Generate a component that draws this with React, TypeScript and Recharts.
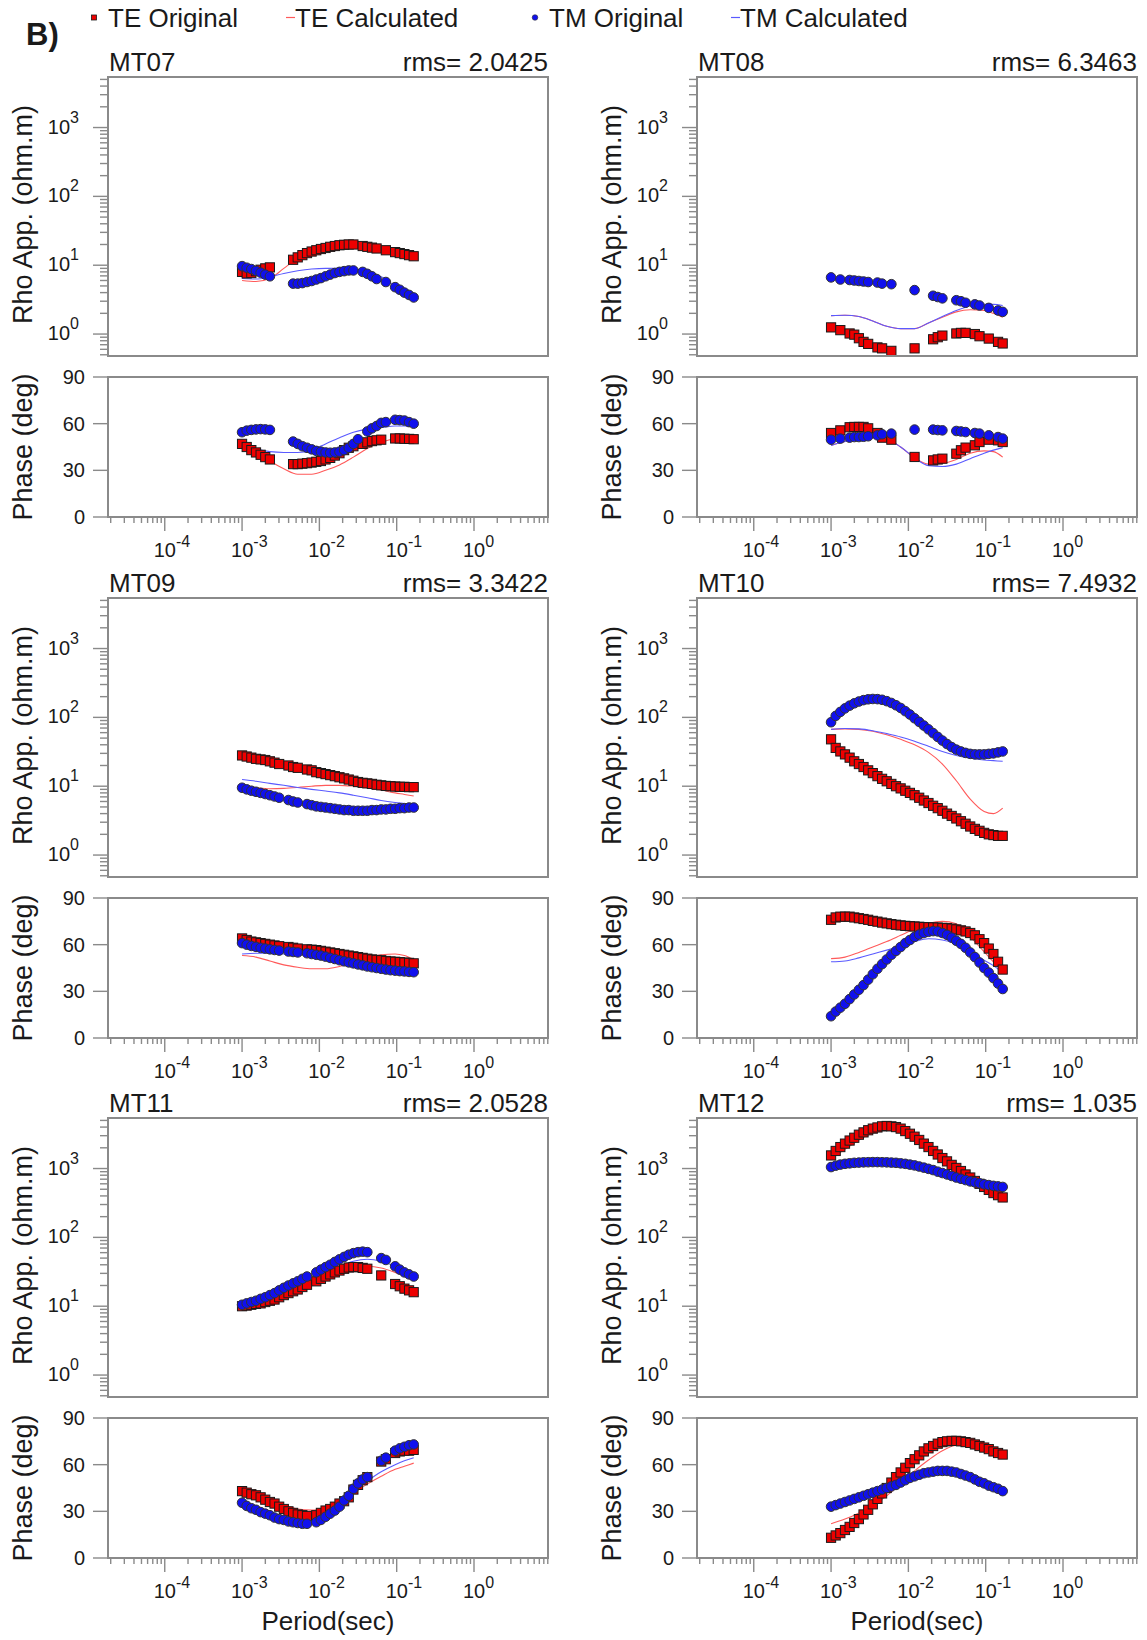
import { ComposedChart, Scatter, Line, XAxis, YAxis } from 'recharts'

const FONT = '"Liberation Sans", Arial, Helvetica, sans-serif'
const TEXT = '#1a1a1a'
const FRAME = '#8a8a8a'
const TE_FILL = '#ee0000'
const TM_FILL = '#1010ee'
const TE_LINE = '#ff5a5a'
const TM_LINE = '#5a5aff'

// observed periods (s)
const periods = [
  0.001, 0.001148, 0.001318, 0.001514, 0.001738, 0.001995, 0.002291, 0.00263, 0.00302, 0.003467,
  0.003981, 0.004571, 0.005248, 0.006026, 0.006918, 0.007943, 0.00912, 0.010471, 0.012023, 0.013804,
  0.015849, 0.018197, 0.020893, 0.023988, 0.027542, 0.031623, 0.036308, 0.041687, 0.047863, 0.054954,
  0.063096, 0.072444, 0.083176, 0.095499, 0.109648, 0.125893, 0.144544, 0.165959,
]
// periods of the model response curves (s)
const calcPeriods = [
  0.001, 0.001514, 0.002291, 0.003467, 0.005248, 0.007943, 0.012023, 0.018197, 0.027542, 0.041687,
  0.063096, 0.095499, 0.125893, 0.165959,
]

const xMajor = [1e-4, 1e-3, 1e-2, 1e-1, 1]
const xDecades = [1e-5, 1e-4, 1e-3, 1e-2, 1e-1, 1]
const rhoMajor = [1, 10, 100, 1000]
const rhoDecades = [0.1, 1, 10, 100, 1000]
const phaseTicks = [0, 30, 60, 90]
const X_DOMAIN = [1.845e-5, 9.06]
const RHO_DOMAIN = [0.48, 5420]

// ---- MT07
const mt07TeRho = [8.0, 7.6, 7.7, 8.2, 8.6, 9.0, 9.3, null, null, null, null, 12, 13, 14, 15, 15.8, 16.5, 17.2, 17.8, 18.5, 19, 19.5, 19.8, 20, 20, null, 19, 18.5, 18, 17.5, null, 16.5, null, 15.5, 15, 14.5, 14, 13.5]
const mt07TmRho = [9.7, 9.2, 8.8, 8.3, 7.8, 7.3, 6.9, null, null, null, null, 5.4, 5.4, 5.5, 5.7, 5.9, 6.2, 6.5, 6.9, 7.3, 7.7, 8.0, 8.2, 8.4, 8.4, null, 8.0, 7.5, 6.9, 6.3, null, 5.7, null, 4.8, 4.4, 4.0, 3.7, 3.4]
const mt07TePhase = [47, 45, 43, 41.5, 40, 38.5, 37, null, null, null, null, 34, 34, 34.3, 34.6, 35, 35.5, 36, 37, 38, 39.5, 41, 43, 44.5, 45.5, null, 47, 48, 48.8, 49.3, 49.7, null, null, 50.5, 50.5, 50.3, 50.2, 50]
const mt07TmPhase = [54.5, 55.5, 56, 56.3, 56.5, 56.3, 56, null, null, null, null, 48.5, 47, 45.5, 44.5, 43.5, 42.5, 42, 41.5, 41.3, 41.5, 42, 43, 44.5, 47, 50, null, 55, 57, 58.5, 60.5, 61, null, 62.5, 62.3, 62, 61, 60]
const mt07TeRhoCalc = [6.0, 5.8, 6.4, 9, 12.5, 14.5, 17, 19, 20, 19.5, 17.5, 15.5, 14.5, 13.5]
const mt07TmRhoCalc = [6.4, 6.3, 6.8, 7.6, 8.3, 8.8, 9.0, 9.0, 8.7, 8.0, 6.8, 5.0, 4.2, 3.6]
const mt07TePhaseCalc = [47, 42, 36, 31, 27.5, 27.5, 30, 33.5, 38.5, 44, 48, 50.5, 51, 51]
const mt07TmPhaseCalc = [48, 44, 42, 41.5, 41.5, 43, 47, 51, 54.5, 56.5, 57.5, 58.5, 58.5, 58]

// ---- MT08
const mt08TeRho = [1.25, null, 1.14, null, 1.02, 0.98, 0.87, 0.77, 0.72, null, 0.64, 0.62, null, 0.57, null, null, null, null, 0.62, null, null, null, 0.84, 0.9, 0.95, null, null, 1.02, 1.04, 1.04, null, 1.0, 0.93, null, 0.86, null, 0.77, 0.73]
const mt08TmRho = [6.65, null, 6.2, null, 6.1, 6.0, 5.9, 5.8, 5.7, null, 5.6, 5.4, null, 5.3, null, null, null, null, 4.35, null, null, null, 3.6, 3.45, 3.3, null, null, 3.1, 3.0, 2.85, null, 2.7, 2.6, null, 2.4, null, 2.2, 2.1]
const mt08TePhase = [54, null, 55.7, null, 57.7, 57.9, 57.9, 57.9, 57, null, 54, 51, null, 49.7, null, null, null, null, 38.6, null, null, null, 36.4, 37, 37.5, null, null, 40.7, 42.9, 44.6, null, 46.1, 48.2, null, 49.7, null, 49.3, 48.2]
const mt08TmPhase = [49.7, null, 50.4, null, 51, 51.4, 51.4, 51.6, 51.9, null, 52.5, 53.2, null, 53.6, null, null, null, null, 56.2, null, null, null, 56.2, 55.9, 55.7, null, null, 55.3, 55, 54.6, null, 54, 53.6, null, 52.5, null, 51.4, 50.4]
const mt08TeRhoCalc = [1.85, 1.88, 1.8, 1.55, 1.3, 1.2, 1.2, 1.45, 1.75, 2.1, 2.25, 2.2, 2.0, 1.75]
const mt08TmRhoCalc = [1.85, 1.88, 1.8, 1.55, 1.3, 1.2, 1.2, 1.45, 1.8, 2.2, 2.55, 2.7, 2.7, 2.6]
const mt08TePhaseCalc = [46, 48.5, 50.5, 51, 50, 45, 38, 34, 34.5, 37, 41, 42.5, 42, 38.5]
const mt08TmPhaseCalc = [46, 48.5, 50.5, 51, 50, 45, 38, 33, 32.5, 34, 37.5, 41, 43, 44.6]

// ---- MT09
const mt09TeRho = [28, 27, 26, 25, 24.5, 24, 23, 22, 21, null, 20, 19, 18.5, null, 17.5, 17, 16, 15.5, 15, 14.5, 14, 13.5, 13, 12.5, 12, 11.5, 11.2, 11, 10.8, 10.5, 10.3, 10.1, 10, 9.9, 9.8, 9.8, 9.7, 9.7]
const mt09TmRho = [9.5, 9.0, 8.6, 8.3, 8.0, 7.7, 7.4, 7.1, 6.8, null, 6.3, 6.0, 5.8, null, 5.5, 5.3, 5.1, 5.0, 4.9, 4.8, 4.7, 4.6, 4.5, 4.5, 4.4, 4.4, 4.4, 4.4, 4.5, 4.5, 4.6, 4.6, 4.7, 4.7, 4.8, 4.8, 4.9, 4.9]
const mt09TePhase = [64, 63, 62, 61.5, 61, 60.5, 60, 59.5, 59, null, 58.5, 58, 57.5, null, 57, 56.8, 56.5, 56, 55.5, 55, 54.5, 54, 53.5, 53, 52.5, 52, 51.5, 51, 50.5, 50.2, 50, 49.5, 49.2, 49, 48.8, 48.5, 48.3, 48]
const mt09TmPhase = [61, 60, 59.2, 58.6, 58, 57.5, 57, 56.6, 56.2, null, 55.6, 55.3, 55, null, 54.5, 54, 53.5, 53, 52.3, 51.5, 50.8, 50, 49.3, 48.6, 48, 47.3, 46.7, 46, 45.5, 45, 44.5, 44, 43.6, 43.3, 43, 42.8, 42.5, 42.3]
const mt09TeRhoCalc = [10, 9.5, 9.2, 9.3, 9.6, 10, 10.3, 10.3, 10, 9.5, 8.8, 8, 7.6, 7.2]
const mt09TmRhoCalc = [12.5, 11.8, 11, 10.3, 9.6, 9, 8.5, 8, 7.4, 6.8, 6.2, 5.8, 5.6, 5.4]
const mt09TePhaseCalc = [53, 52, 49.5, 47, 45.5, 44.5, 44.5, 46, 48.5, 51.5, 53.5, 54, 53, 50.5]
const mt09TmPhaseCalc = [54, 54.5, 54.5, 54, 53.5, 53, 52.5, 51.5, 50.5, 49.5, 48.5, 47.5, 47, 46.5]

// ---- MT10
const mt10TeRho = [48, 36, 32, 29, 26, 23, 21, 19, 17, 15.5, 14, 12.8, 11.8, 10.8, 10, 9.3, 8.6, 8, 7.4, 6.8, 6.2, 5.7, 5.2, 4.8, 4.4, 4, 3.7, 3.4, 3.1, 2.85, 2.6, 2.4, 2.25, 2.1, 2.0, 1.95, 1.9, 1.9]
const mt10TmRho = [85, 105, 120, 135, 148, 160, 170, 178, 183, 185, 184, 180, 172, 162, 150, 137, 123, 110, 97, 86, 76, 67, 59, 52, 46, 41, 37, 34, 32, 30.5, 29.5, 29, 29, 29, 29.5, 30, 31, 32]
const mt10TePhase = [76, 77.5, 78, 78, 78, 77.5, 77, 76.5, 76, 75.3, 74.8, 74.2, 73.7, 73.2, 72.8, 72.4, 72.1, 71.9, 71.7, 71.5, 71.3, 71.2, 71.1, 71, 70.8, 70.6, 70.3, 69.8, 69.2, 68.5, 67.5, 66, 63.5, 61, 57.5, 54, 49, 44]
const mt10TmPhase = [14, 17, 19.5, 22, 25, 28, 31, 34, 37.5, 41, 44.5, 47.5, 50.5, 53.5, 56, 58.5, 61, 63, 65, 66.5, 67.5, 68.3, 68.7, 68.5, 67.5, 66.3, 64.5, 62.5, 60.5, 58, 55, 52, 48.5, 45, 42, 38.5, 35, 31.5]
const mt10TeRhoCalc = [67, 68, 67, 63, 56, 48, 40, 31, 21, 12, 6.5, 4.3, 4.0, 4.8]
const mt10TmRhoCalc = [67, 69, 68, 64, 58, 52, 45, 38, 32, 28, 25.5, 24, 23.5, 23]
const mt10TePhaseCalc = [51, 52, 55, 58.5, 62, 66, 70, 73.5, 75, 73.5, 65, 55.5, 49, 43]
const mt10TmPhaseCalc = [49, 49.5, 51.5, 54, 56.5, 59, 62, 63.8, 63, 60.5, 56, 50, 46.5, 42]

// ---- MT11
const mt11TeRho = [10, 10.2, 10.5, 10.8, 11, 11.5, 12, 12.5, 13.5, 14.5, 15.5, 16.5, 17.5, 19, 20.5, null, 23, 25, 27, 29, 31, 33, 35, 36.5, 37, 37, 36, 35, null, null, 28, null, null, 21, 19.5, 18, 17, 16]
const mt11TmRho = [10.5, 11, 11.5, 12, 12.8, 13.5, 14.5, 15.5, 17, 18.5, 20, 21.5, 23, 25, 27, null, 31, 34, 37, 40, 44, 48, 52, 56, 59, 61, 62, 61, null, null, 50, 47, null, 38, 34, 31, 29, 27]
const mt11TePhase = [43, 42, 41, 40.3, 39, 37.5, 36, 35, 33, 31.5, 30, 29, 28, 27.5, 27, null, 27.5, 29, 30.5, 31.5, 33, 35, 36.5, 39, 44, 47, 50, 52, null, null, 62, 63.5, null, 67.5, 68.5, 69, 69, 69.5]
const mt11TmPhase = [35.5, 33.5, 32, 31, 29.5, 28.5, 27.5, 26, 25, 24.5, 23.5, 23, 22.5, 22, 22, null, 23, 24.5, 26.5, 28.5, 30.5, 33, 37, 40, 44.5, 48, 50.5, 52, null, null, 62.5, 64.5, null, 69, 70.5, 71.5, 72.5, 73]
const mt11TeRhoCalc = [12, 12, 12.5, 14, 16.5, 20, 25, 31, 36, 38, 36, 31, 27.5, 24]
const mt11TmRhoCalc = [10.5, 11, 12.5, 15, 18.5, 23, 30, 38, 45, 48, 45, 38, 33, 29]
const mt11TePhaseCalc = [45, 41, 37.5, 34, 31.5, 30.8, 32.5, 36, 42, 47.5, 52.5, 57, 59, 61]
const mt11TmPhaseCalc = [45.5, 40.5, 36.5, 32, 28.2, 26.8, 29.5, 35, 42.5, 49.5, 55.5, 60, 62.5, 64.5]

// ---- MT12
const mt12TeRho = [1550, 1800, 2050, 2300, 2550, 2800, 3100, 3350, 3600, 3800, 3950, 4100, 4150, 4100, 4000, 3800, 3500, 3200, 2900, 2600, 2300, 2050, 1800, 1600, 1420, 1270, 1130, 1020, 920, 820, 740, 660, 600, 540, 490, 440, 410, 380]
const mt12TmRho = [1050, 1100, 1140, 1170, 1190, 1210, 1220, 1230, 1235, 1240, 1240, 1235, 1230, 1220, 1210, 1190, 1170, 1140, 1110, 1070, 1030, 990, 950, 900, 860, 820, 780, 740, 710, 680, 650, 630, 610, 590, 575, 560, 550, 540]
const mt12TePhase = [13, 14.5, 16, 18, 20, 22.5, 25, 28, 31, 34.5, 38, 41.5, 45, 48.5, 52, 55, 58, 61, 63.5, 66, 68.5, 70.5, 72, 73.5, 74.5, 75, 75.3, 75.3, 75, 74.5, 74, 73, 72, 71, 70, 68.5, 67.5, 66.5]
const mt12TmPhase = [33, 34, 35, 36, 37, 38, 39, 40, 41, 42, 43, 44, 45, 46, 47, 48.5, 50, 51.5, 52.5, 53.5, 54.5, 55, 55.5, 56, 56, 56, 55.5, 55, 54, 53, 52, 50.5, 49, 48, 46.5, 45.5, 44.5, 43]
const mt12TeRhoCalc = [1400, 1900, 2600, 3300, 3800, 3700, 3000, 2200, 1500, 1050, 760, 560, 470, 400]
const mt12TmRhoCalc = [1080, 1150, 1200, 1230, 1230, 1200, 1130, 1020, 880, 760, 660, 600, 570, 550]
const mt12TePhaseCalc = [22, 25, 29, 34, 40, 48, 56, 63, 69, 72.5, 73, 71, 69, 66]
const mt12TmPhaseCalc = [34, 36, 38.5, 41, 44, 47, 51, 54, 55.5, 55, 52.5, 48.5, 46, 43]

type Vals = (number | null)[]
type Station = {
  name: string; rms: string
  teRho: Vals; tmRho: Vals; tePhase: Vals; tmPhase: Vals
  teRhoCalc: Vals; tmRhoCalc: Vals; tePhaseCalc: Vals; tmPhaseCalc: Vals
}

const stations: Station[] = [
  { name: 'MT07', rms: '2.0425', teRho: mt07TeRho, tmRho: mt07TmRho, tePhase: mt07TePhase, tmPhase: mt07TmPhase, teRhoCalc: mt07TeRhoCalc, tmRhoCalc: mt07TmRhoCalc, tePhaseCalc: mt07TePhaseCalc, tmPhaseCalc: mt07TmPhaseCalc },
  { name: 'MT08', rms: '6.3463', teRho: mt08TeRho, tmRho: mt08TmRho, tePhase: mt08TePhase, tmPhase: mt08TmPhase, teRhoCalc: mt08TeRhoCalc, tmRhoCalc: mt08TmRhoCalc, tePhaseCalc: mt08TePhaseCalc, tmPhaseCalc: mt08TmPhaseCalc },
  { name: 'MT09', rms: '3.3422', teRho: mt09TeRho, tmRho: mt09TmRho, tePhase: mt09TePhase, tmPhase: mt09TmPhase, teRhoCalc: mt09TeRhoCalc, tmRhoCalc: mt09TmRhoCalc, tePhaseCalc: mt09TePhaseCalc, tmPhaseCalc: mt09TmPhaseCalc },
  { name: 'MT10', rms: '7.4932', teRho: mt10TeRho, tmRho: mt10TmRho, tePhase: mt10TePhase, tmPhase: mt10TmPhase, teRhoCalc: mt10TeRhoCalc, tmRhoCalc: mt10TmRhoCalc, tePhaseCalc: mt10TePhaseCalc, tmPhaseCalc: mt10TmPhaseCalc },
  { name: 'MT11', rms: '2.0528', teRho: mt11TeRho, tmRho: mt11TmRho, tePhase: mt11TePhase, tmPhase: mt11TmPhase, teRhoCalc: mt11TeRhoCalc, tmRhoCalc: mt11TmRhoCalc, tePhaseCalc: mt11TePhaseCalc, tmPhaseCalc: mt11TmPhaseCalc },
  { name: 'MT12', rms: '1.035', teRho: mt12TeRho, tmRho: mt12TmRho, tePhase: mt12TePhase, tmPhase: mt12TmPhase, teRhoCalc: mt12TeRhoCalc, tmRhoCalc: mt12TmRhoCalc, tePhaseCalc: mt12TePhaseCalc, tmPhaseCalc: mt12TmPhaseCalc },
]

// layout
const COL_LEFT = [108, 697]
const ROW_TOP = [77, 598, 1118]
const BOX_W = 440
const RHO_H = 279
const PHASE_GAP = 300
const PHASE_H = 140
const AXIS_W = 100

const minorTicks = (decades: number[], lo: number, hi: number) => {
  const out: number[] = []
  decades.forEach(d => {
    for (let m = 2; m <= 9; m++) {
      const v = m * d
      if (v >= lo && v <= hi) out.push(v)
    }
  })
  return out
}
const xTicks = [...xMajor, ...minorTicks(xDecades, X_DOMAIN[0], X_DOMAIN[1])].sort((a, b) => a - b)
const rhoTicks = [...rhoMajor, ...minorTicks(rhoDecades, RHO_DOMAIN[0], RHO_DOMAIN[1])].sort((a, b) => a - b)

const pts = (xs: number[], ys: Vals) =>
  xs.map((p, i) => ({ p, v: ys[i] })).filter(d => d.v !== null && d.v !== undefined)

const square = (p: any) => (
  <rect x={p.cx - 4.6} y={p.cy - 4.6} width={9.2} height={9.2} fill={TE_FILL} stroke="#1a1a1a" strokeWidth={1} />
)
const dot = (p: any) => <circle cx={p.cx} cy={p.cy} r={4.8} fill={TM_FILL} stroke="#333" strokeWidth={1} />

function XTick(props: any) {
  const { x, y, payload } = props
  const v = payload.value
  const major = xMajor.includes(v)
  const exp = Math.round(Math.log10(v))
  return (
    <g>
      <line x1={x} x2={x} y1={y} y2={y + (major ? 14 : 6)} stroke={FRAME} strokeWidth={1.4} />
      {major && (
        <text x={x - 11} y={y + 40} fontSize={20} fontFamily={FONT} fill={TEXT}>
          10<tspan dy={-10} fontSize={16}>{exp}</tspan>
        </text>
      )}
    </g>
  )
}

function RhoTick(props: any) {
  const { x, y, payload } = props
  const v = payload.value
  const major = rhoMajor.includes(v)
  const exp = Math.round(Math.log10(v))
  return (
    <g>
      <line x1={x - (major ? 15 : 8)} x2={x} y1={y} y2={y} stroke={FRAME} strokeWidth={1.4} />
      {major && (
        <text x={x - 29} y={y + 6} textAnchor="end" fontSize={20} fontFamily={FONT} fill={TEXT}>
          10<tspan dy={-11} fontSize={16}>{exp}</tspan>
        </text>
      )}
    </g>
  )
}

function PhaseTick(props: any) {
  const { x, y, payload } = props
  return (
    <g>
      <line x1={x - 15} x2={x} y1={y} y2={y} stroke={FRAME} strokeWidth={1.4} />
      <text x={x - 23} y={y + 7} textAnchor="end" fontSize={20} fontFamily={FONT} fill={TEXT}>
        {payload.value}
      </text>
    </g>
  )
}

function Frame({ left, top, width, height }: { left: number; top: number; width: number; height: number }) {
  return (
    <div
      style={{
        position: 'absolute', left: left - 1, top: top - 1, width: width + 2, height: height + 2,
        border: `2px solid ${FRAME}`, boxSizing: 'border-box', pointerEvents: 'none',
      }}
    />
  )
}

function Panel({ st, col, row }: { st: Station; col: number; row: number }) {
  const boxL = COL_LEFT[col]
  const rhoT = ROW_TOP[row]
  const phT = rhoT + PHASE_GAP
  return (
    <>
      <div style={{ position: 'absolute', left: boxL - AXIS_W, top: rhoT - 8 }}>
        <ComposedChart width={AXIS_W + BOX_W + 10} height={RHO_H + 16} margin={{ top: 8, right: 10, bottom: 8, left: 0 }}>
          <XAxis dataKey="p" type="number" scale="log" domain={X_DOMAIN} allowDataOverflow hide />
          <YAxis
            type="number" scale="log" domain={RHO_DOMAIN} allowDataOverflow ticks={rhoTicks} interval={0}
            width={AXIS_W} tickSize={0} tickMargin={0} tickLine={false} axisLine={false}
            tick={(p: any) => <RhoTick {...p} />}
          />
          <Scatter data={pts(periods, st.teRho)} dataKey="v" shape={square} isAnimationActive={false} />
          <Scatter data={pts(periods, st.tmRho)} dataKey="v" shape={dot} isAnimationActive={false} />
          <Line data={pts(calcPeriods, st.teRhoCalc)} dataKey="v" type="monotone" stroke={TE_LINE} strokeWidth={1.1} dot={false} isAnimationActive={false} />
          <Line data={pts(calcPeriods, st.tmRhoCalc)} dataKey="v" type="monotone" stroke={TM_LINE} strokeWidth={1.1} dot={false} isAnimationActive={false} />
        </ComposedChart>
      </div>
      <Frame left={boxL} top={rhoT} width={BOX_W} height={RHO_H} />
      <div style={{ position: 'absolute', left: boxL - AXIS_W, top: phT - 12 }}>
        <ComposedChart width={AXIS_W + BOX_W + 10} height={PHASE_H + 12 + 56} margin={{ top: 12, right: 10, bottom: 0, left: 0 }}>
          <XAxis
            dataKey="p" type="number" scale="log" domain={X_DOMAIN} allowDataOverflow ticks={xTicks} interval={0}
            height={56} tickSize={0} tickMargin={0} tickLine={false} axisLine={false}
            tick={(p: any) => <XTick {...p} />}
          />
          <YAxis
            type="number" domain={[0, 90]} allowDataOverflow ticks={phaseTicks} interval={0}
            width={AXIS_W} tickSize={0} tickMargin={0} tickLine={false} axisLine={false}
            tick={(p: any) => <PhaseTick {...p} />}
          />
          <Scatter data={pts(periods, st.tePhase)} dataKey="v" shape={square} isAnimationActive={false} />
          <Scatter data={pts(periods, st.tmPhase)} dataKey="v" shape={dot} isAnimationActive={false} />
          <Line data={pts(calcPeriods, st.tePhaseCalc)} dataKey="v" type="monotone" stroke={TE_LINE} strokeWidth={1.1} dot={false} isAnimationActive={false} />
          <Line data={pts(calcPeriods, st.tmPhaseCalc)} dataKey="v" type="monotone" stroke={TM_LINE} strokeWidth={1.1} dot={false} isAnimationActive={false} />
        </ComposedChart>
      </div>
      <Frame left={boxL} top={phT} width={BOX_W} height={PHASE_H} />
    </>
  )
}

function Labels() {
  const txt = { fontFamily: FONT, fill: TEXT }
  return (
    <svg width={1147} height={1640} style={{ position: 'absolute', left: 0, top: 0 }}>
      <text x={26} y={45} fontSize={31} fontWeight="bold" {...txt}>B)</text>
      <rect x={91.5} y={15} width={5} height={5} fill={TE_FILL} stroke="#1a1a1a" strokeWidth={0.8} />
      <text x={108} y={27} fontSize={26} {...txt}>TE Original</text>
      <line x1={286} x2={295} y1={17.5} y2={17.5} stroke={TE_LINE} strokeWidth={1.2} />
      <text x={295} y={27} fontSize={26} {...txt}>TE Calculated</text>
      <circle cx={535} cy={17.5} r={2.8} fill={TM_FILL} stroke="#333" strokeWidth={0.6} />
      <text x={549} y={27} fontSize={26} {...txt}>TM Original</text>
      <line x1={731} x2={740} y1={17.5} y2={17.5} stroke={TM_LINE} strokeWidth={1.2} />
      <text x={740} y={27} fontSize={26} {...txt}>TM Calculated</text>
      {stations.map((st, i) => {
        const col = i % 2
        const row = Math.floor(i / 2)
        const boxL = COL_LEFT[col]
        const rhoT = ROW_TOP[row]
        const phT = rhoT + PHASE_GAP
        const ax = boxL - 76
        return (
          <g key={st.name}>
            <text x={boxL + 1} y={rhoT - 6.5} fontSize={26} {...txt}>{st.name}</text>
            <text x={boxL + BOX_W} y={rhoT - 6.5} fontSize={26} textAnchor="end" {...txt}>rms= {st.rms}</text>
            <text x={ax} y={rhoT + RHO_H / 2 - 2} fontSize={27} textAnchor="middle" transform={`rotate(-90 ${ax} ${rhoT + RHO_H / 2 - 2})`} {...txt}>
              Rho App. (ohm.m)
            </text>
            <text x={ax} y={phT + PHASE_H / 2} fontSize={27} textAnchor="middle" transform={`rotate(-90 ${ax} ${phT + PHASE_H / 2})`} {...txt}>
              Phase (deg)
            </text>
          </g>
        )
      })}
      {COL_LEFT.map(l => (
        <text key={l} x={l + BOX_W / 2} y={ROW_TOP[2] + PHASE_GAP + PHASE_H + 72} fontSize={26} textAnchor="middle" {...txt}>
          Period(sec)
        </text>
      ))}
    </svg>
  )
}

export default function App() {
  return (
    <div style={{ position: 'absolute', left: 0, top: 0, width: 1147, height: 1640, background: '#fff' }}>
      <Labels />
      {stations.map((st, i) => (
        <Panel key={st.name} st={st} col={i % 2} row={Math.floor(i / 2)} />
      ))}
    </div>
  )
}
